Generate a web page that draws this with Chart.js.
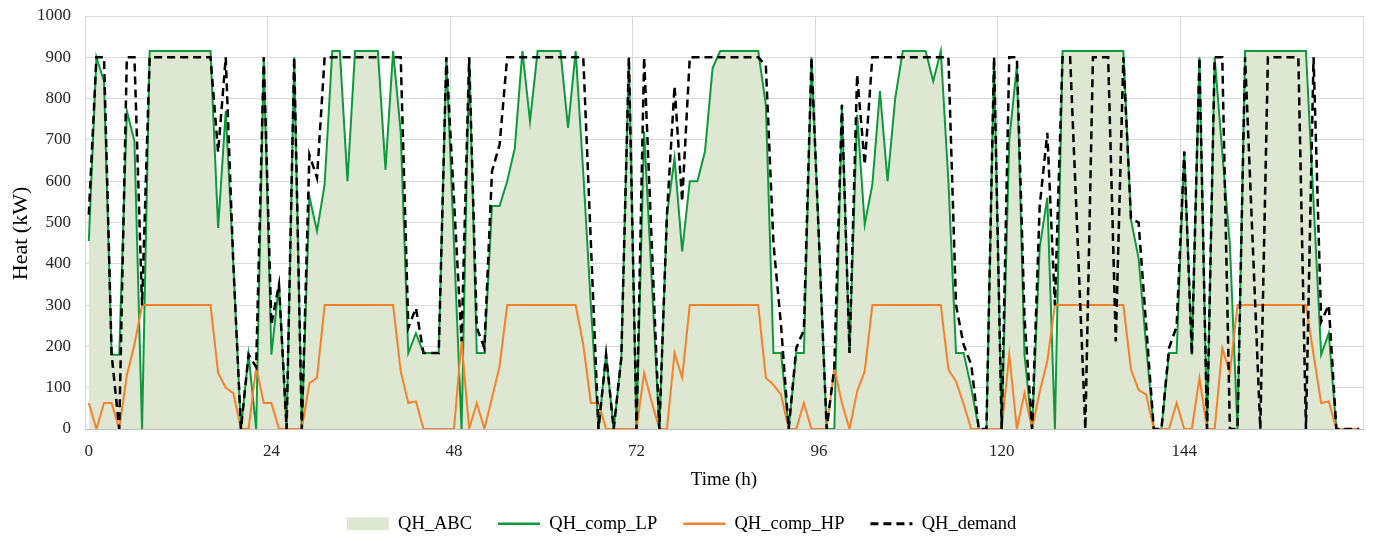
<!DOCTYPE html>
<html><head><meta charset="utf-8">
<script src="https://cdn.jsdelivr.net/npm/chart.js@4.4.1/dist/chart.umd.min.js"></script>
<style>html,body{margin:0;padding:0;background:#fff;}#wrap{width:1375px;height:538px;}</style>
</head><body><div id="wrap"><canvas id="c" width="1375" height="538"></canvas></div>
<script>
// Hour categories 0..167
const hours = Array.from({length:168}, (_, i) => i);
const xTickLabels = [0, 24, 48, 72, 96, 120, 144];

const QH_ABC = [
 455,900,842,180,180,770,697,0,915,915,915,915,915,915,915,915,915,487,770,400,0,180,0,900,
 180,350,0,900,0,563,479,592,915,915,600,915,915,915,915,628,915,720,184,232,184,184,184,900,
 450,0,900,184,184,540,540,600,680,915,745,915,915,915,915,729,915,620,300,0,180,0,172,900,
 0,720,360,0,519,656,430,600,600,672,874,915,915,915,915,915,915,785,184,184,0,184,184,900,
 450,0,0,785,184,761,495,592,818,600,800,915,915,915,915,842,915,600,184,184,100,0,0,900,
 0,700,880,180,0,440,560,0,915,915,915,915,915,915,915,915,915,507,414,200,0,0,184,184,
 672,180,900,0,900,670,446,0,915,915,915,915,915,915,915,915,915,550,180,232,0,0,0,0
];
const QH_comp_LP = [
 455,900,842,180,180,770,697,0,915,915,915,915,915,915,915,915,915,487,770,400,0,180,0,900,
 180,350,0,900,0,563,479,592,915,915,600,915,915,915,915,628,915,720,184,232,184,184,184,900,
 450,0,900,184,184,540,540,600,680,915,745,915,915,915,915,729,915,620,300,0,180,0,172,900,
 0,720,360,0,519,656,430,600,600,672,874,915,915,915,915,915,915,785,184,184,0,184,184,900,
 450,0,0,785,184,761,495,592,818,600,800,915,915,915,915,842,915,600,184,184,100,0,0,900,
 0,700,880,180,0,440,560,0,915,915,915,915,915,915,915,915,915,507,414,200,0,0,184,184,
 672,180,900,0,900,670,446,0,915,915,915,915,915,915,915,915,915,550,180,232,0,0,0,0
];
const QH_comp_HP = [
 63,0,63,63,0,130,204,300,300,300,300,300,300,300,300,300,300,136,100,87,0,0,150,63,
 63,0,0,0,0,111,124,300,300,300,300,300,300,300,300,300,300,140,63,67,0,0,0,0,
 0,212,0,63,0,75,152,300,300,300,300,300,300,300,300,300,300,204,63,63,0,0,0,0,
 0,136,65,0,0,184,124,300,300,300,300,300,300,300,300,300,300,124,107,83,0,0,63,0,
 0,0,148,63,0,91,140,300,300,300,300,300,300,300,300,300,300,144,115,60,0,0,0,0,
 0,180,0,87,0,90,164,300,300,300,300,300,300,300,300,300,300,144,95,83,0,0,0,63,
 0,0,124,0,0,196,136,300,300,300,300,300,300,300,300,300,300,180,63,67,0,0,0,0
];
const QH_demand = [
 519,900,900,180,0,900,900,300,900,900,900,900,900,900,900,900,900,670,900,400,0,180,150,900,
 253,350,0,900,0,664,608,900,900,900,900,900,900,900,900,900,900,900,245,293,184,184,184,900,
 556,212,900,245,196,624,688,900,900,900,900,900,900,900,900,900,900,900,450,0,180,0,172,900,
 0,900,450,0,520,830,551,900,900,900,900,900,900,900,900,900,900,880,450,250,0,196,240,900,
 450,0,148,785,184,858,640,900,900,900,900,900,900,900,900,900,900,900,300,204,156,0,0,900,
 0,900,900,270,0,540,717,300,900,900,450,0,900,900,900,212,900,510,500,250,0,0,196,248,
 672,180,900,0,900,900,0,0,900,450,0,900,900,900,900,900,0,900,260,300,0,0,0,0
];

const FILL = '#dde7d1';
const GREEN = '#0e9a3c';
const ORANGE = '#f5822b';
const GRID = '#d9d9d9';
const FONT = '"Liberation Serif", "Times New Roman", serif';

Chart.defaults.font.family = FONT;
Chart.defaults.color = '#262626';

new Chart(document.getElementById('c'), {
  type: 'line',
  data: {
    labels: hours,
    datasets: [
      {label:'QH_ABC', data:QH_ABC, fill:'origin', backgroundColor:FILL, borderColor:FILL, borderWidth:0, pointRadius:0, tension:0, order:4},
      {label:'QH_comp_LP', data:QH_comp_LP, fill:false, borderColor:GREEN, backgroundColor:GREEN, borderWidth:2, pointRadius:0, tension:0, order:3},
      {label:'QH_comp_HP', data:QH_comp_HP, fill:false, borderColor:ORANGE, backgroundColor:ORANGE, borderWidth:2, pointRadius:0, tension:0, order:2},
      {label:'QH_demand', data:QH_demand, fill:false, borderColor:'#000', backgroundColor:'#000', borderWidth:2.5, borderDash:[8,5], pointRadius:0, tension:0, order:1}
    ]
  },
  options: {
    responsive: false,
    animation: false,
    layout: {padding: {left: 0, right: 12, top: 16, bottom: -5}},
    plugins: {
      tooltip: {enabled: false},
      legend: {
        position: 'bottom',
        labels: {
          usePointStyle: true, pointStyleWidth: 42, boxHeight: 13,
          padding: 26, color: '#000', font: {size: 18.5, family: FONT},
          sort: (a, b) => a.datasetIndex - b.datasetIndex,
          generateLabels(chart) {
            const items = Chart.defaults.plugins.legend.labels.generateLabels(chart);
            items.forEach(it => {
              const ds = chart.data.datasets[it.datasetIndex];
              if (ds.label === 'QH_ABC') {
                it.pointStyle = 'rect'; it.fillStyle = FILL; it.strokeStyle = FILL; it.lineWidth = 0;
              } else {
                it.pointStyle = 'line'; it.strokeStyle = ds.borderColor; it.fillStyle = ds.borderColor;
                it.lineWidth = ds.borderWidth + 0.5; it.lineDash = ds.borderDash || [];
              }
            });
            return items;
          }
        }
      }
    },
    scales: {
      x: {
        offset: true,
        afterFit: s => { s.height = 59.5; s.paddingLeft = 0; s.paddingRight = 0; },
        grid: {
          offset: true, drawTicks: false,
          color: c => (c.index === undefined || c.index % 24 === 0) ? GRID : 'rgba(0,0,0,0)'
        },
        border: {color: '#bfbfbf'},
        ticks: {
          autoSkip: false, maxRotation: 0, padding: 12, font: {size: 17},
          callback: (v, i) => xTickLabels.includes(hours[i]) ? String(hours[i]) : ''
        },
        title: {display: true, text: 'Time (h)', font: {size: 19}, color: '#000', padding: {top: 4, bottom: -3}}
      },
      y: {
        min: 0, max: 1000,
        afterFit: s => { s.width = 85; s.paddingTop = 8; s.paddingBottom = 8; },
        grid: {color: GRID, drawTicks: false},
        border: {color: GRID},
        ticks: {stepSize: 100, padding: 14, font: {size: 17}, callback: v => String(v)},
        title: {display: true, text: 'Heat (kW)    ', font: {size: 22}, color: '#000', padding: {top: 8, bottom: 4}}
      }
    }
  }
});
</script>
</body></html>
